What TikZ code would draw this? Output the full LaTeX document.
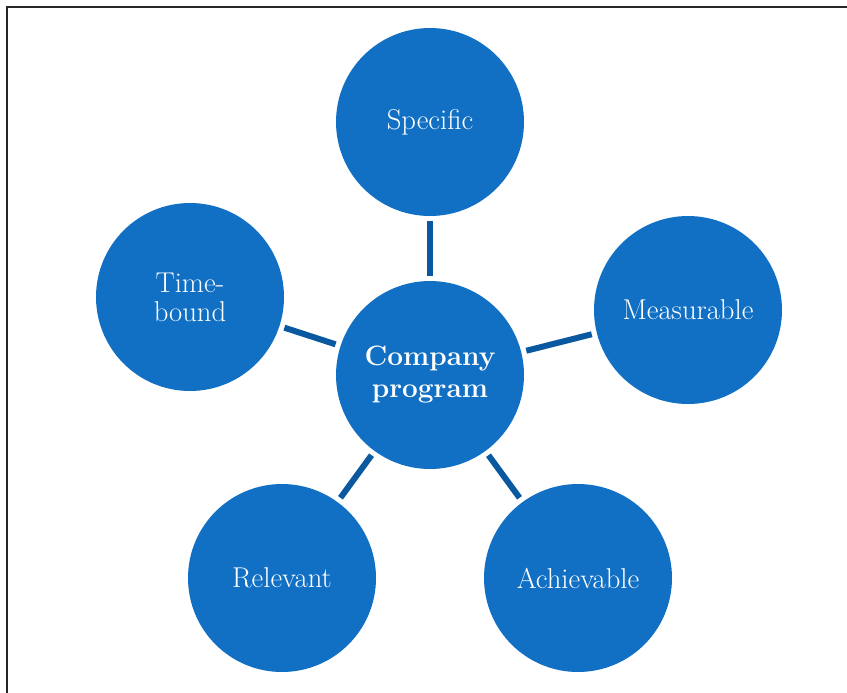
\documentclass[tikz,border=0pt]{standalone}
\usepackage{xcolor}
\usepackage{tikz}
\usetikzlibrary{positioning}
\definecolor{smartblue}{RGB}{17,112,196}
\definecolor{smartlink}{RGB}{10,88,160}

\begin{document}
\begin{tikzpicture}[x=0.75pt,y=-0.75pt, every node/.style={font=\fontsize{21.5}{21.75}\selectfont},
    goal/.style={circle,fill=smartblue,text=white,minimum size=141pt,inner sep=0pt,align=center},
    link/.style={draw=smartlink,line width=4.5pt,shorten <=3.75pt,shorten >=3.75pt}]
    \useasboundingbox (0,0) rectangle (847,693);
    \draw[line width=1.8pt,black!85] (847,7) -- (7,7) -- (7,693);
    \node[goal,font=\bfseries\fontsize{21}{24}\selectfont] (prog) at (430,375) {Company\\program};
    \node[goal] (spec) at (430,122) {Specific};
    \node[goal] (meas) at (688,310) {Measurable};
    \node[goal] (achv) at (578,578) {Achievable};
    \node[goal] (relv) at (282,578) {Relevant};
    \node[goal] (time) at (190,297) {Time-\\bound};
    \foreach \s in {spec,meas,achv,relv,time} \draw[link] (prog)--(\s);
  \end{tikzpicture}
\end{document}
